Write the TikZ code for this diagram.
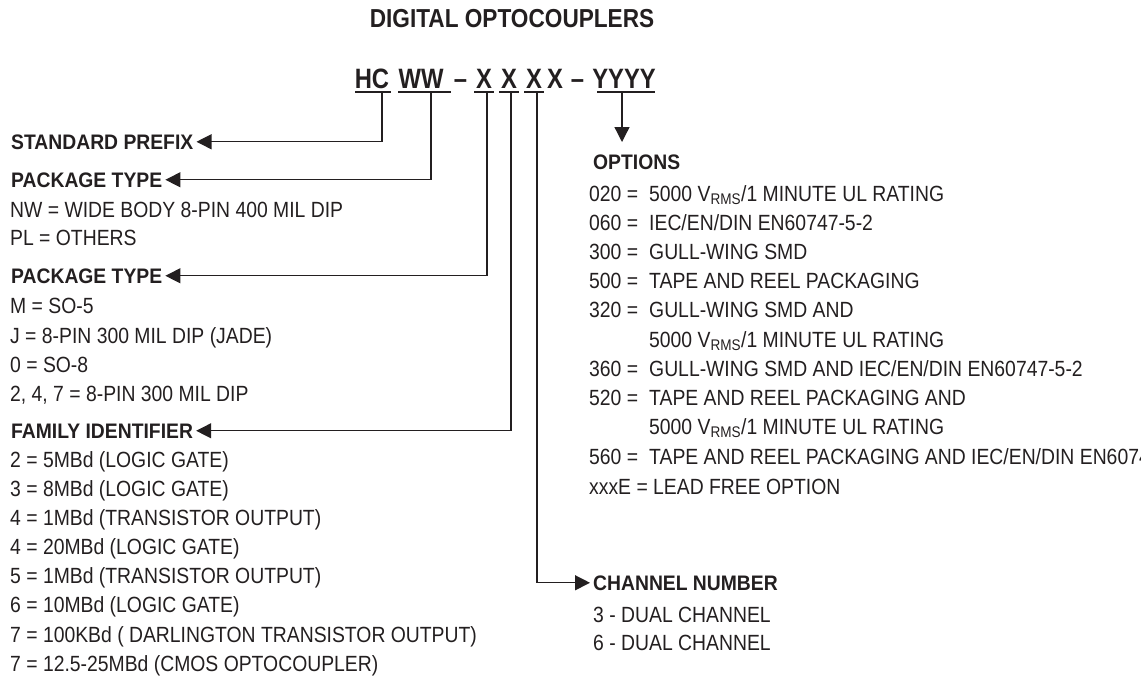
\documentclass[tikz,border=0pt]{standalone}
\usepackage{fontspec}
\setmainfont{Liberation Sans}[FakeStretch=0.88]
\newfontfamily\lblfont{Liberation Sans}[FakeStretch=0.92]
\newfontfamily\titlefont{Liberation Sans}[FakeStretch=0.87]
\newfontfamily\codefont{Liberation Sans}[FakeStretch=0.85]
\usetikzlibrary{arrows.meta}
\definecolor{ink}{HTML}{231F20}
\newcommand{\vrms}{V\textsubscript{RMS}}
\begin{document}
\begin{tikzpicture}[x=1pt,y=-1pt,
  txt/.style={anchor=base west, inner sep=0pt, text=ink, font=\fontsize{22}{26}\selectfont},
  lbl/.style={anchor=base west, inner xsep=3pt, inner ysep=0pt, text=ink, font=\lblfont\bfseries\fontsize{21}{25}\selectfont},
  code/.style={anchor=base, inner xsep=1pt, inner ysep=0pt, text=ink, font=\codefont\bfseries\fontsize{28}{32}\selectfont},
  conn/.style={draw=ink, line width=1.3pt},
  arr/.style={conn, -{Triangle[length=15pt,width=15pt]}},
  uline/.style={draw=ink, line width=1.4pt}
]
\useasboundingbox (0,0) rectangle (1141,678);
\clip (0,0) rectangle (1141,678);

% title
\node[anchor=base, inner sep=0pt, text=ink, font=\titlefont\bfseries\fontsize{26}{30}\selectfont] (title) at (512,27) {DIGITAL OPTOCOUPLERS};

% code line
\node[code] (hc) at (372,88) {HC};
\node[code] (ww) at (421,88) {WW};
\node[code] (d1) at (460.5,88) {–};
\node[code] (x1) at (484,88) {X};
\node[code] (x2) at (509,88) {X};
\node[code] (x3) at (534,88) {X};
\node[code] (x4) at (555,88) {X};
\node[code] (d2) at (577.5,88) {–};
\node[code] (yy) at (624,88) {YYYY};

% underlines
\draw[uline] (355,92) -- (391,92);
\draw[uline] (398,92) -- (451,92);
\draw[uline] (474,92) -- (494,92);
\draw[uline] (499,92) -- (519,92);
\draw[uline] (524,92) -- (544,92);
\draw[uline] (597,92) -- (655,92);

\coordinate (hcU) at (382,92);
\coordinate (wwU) at (431,92);
\coordinate (x1U) at (487,92);
\coordinate (x2U) at (511,92);
\coordinate (x3U) at (537,92);
\coordinate (yyU) at (622,92);
\coordinate (optTip) at (622,142);

% left column
\node[lbl] (sp) at (8,149) {STANDARD PREFIX};
\node[lbl] (pt1) at (8,187) {PACKAGE TYPE};
\node[txt] (pt1a) at (10,217) {NW = WIDE BODY 8-PIN 400 MIL DIP};
\node[txt] (pt1b) at (10,245) {PL = OTHERS};
\node[lbl] (pt2) at (8,283) {PACKAGE TYPE};
\node[txt] (pt2a) at (10,313) {M = SO-5};
\node[txt] (pt2b) at (10,343) {J = 8-PIN 300 MIL DIP (JADE)};
\node[txt] (pt2c) at (10,372) {0 = SO-8};
\node[txt] (pt2d) at (10,401) {2, 4, 7 = 8-PIN 300 MIL DIP};
\node[lbl] (fi) at (8,438) {FAMILY IDENTIFIER};
\node[txt] (fia) at (10,467) {2 = 5MBd (LOGIC GATE)};
\node[txt] (fib) at (10,496) {3 = 8MBd (LOGIC GATE)};
\node[txt] (fic) at (10,525) {4 = 1MBd (TRANSISTOR OUTPUT)};
\node[txt] (fid) at (10,554) {4 = 20MBd (LOGIC GATE)};
\node[txt] (fie) at (10,583) {5 = 1MBd (TRANSISTOR OUTPUT)};
\node[txt] (fif) at (10,612) {6 = 10MBd (LOGIC GATE)};
\node[txt] (fig) at (10,642) {7 = 100KBd ( DARLINGTON TRANSISTOR OUTPUT)};
\node[txt] (fih) at (10,671) {7 = 12.5-25MBd (CMOS OPTOCOUPLER)};

% options
\node[lbl] (opt) at (590,169) {OPTIONS};
\node[txt] (o1k) at (589,201) {020 =};
\node[txt] (o1v) at (649,201) {5000 \vrms/1 MINUTE UL RATING};
\node[txt] (o2k) at (589,230) {060 =};
\node[txt] (o2v) at (649,230) {IEC/EN/DIN EN60747-5-2};
\node[txt] (o3k) at (589,259) {300 =};
\node[txt] (o3v) at (649,259) {GULL-WING SMD};
\node[txt] (o4k) at (589,288) {500 =};
\node[txt] (o4v) at (649,288) {TAPE AND REEL PACKAGING};
\node[txt] (o5k) at (589,317) {320 =};
\node[txt] (o5v) at (649,317) {GULL-WING SMD AND};
\node[txt] (o5w) at (649,347) {5000 \vrms/1 MINUTE UL RATING};
\node[txt] (o6k) at (589,376) {360 =};
\node[txt] (o6v) at (649,376) {GULL-WING SMD AND IEC/EN/DIN EN60747-5-2};
\node[txt] (o7k) at (589,405) {520 =};
\node[txt] (o7v) at (649,405) {TAPE AND REEL PACKAGING AND};
\node[txt] (o7w) at (649,434) {5000 \vrms/1 MINUTE UL RATING};
\node[txt] (o8k) at (589,464) {560 =};
\node[txt] (o8v) at (649,464) {TAPE AND REEL PACKAGING AND IEC/EN/DIN EN60747-5-2};
\node[txt] (o9) at (589,494) {xxxE = LEAD FREE OPTION};

% channel
\node[lbl] (ch) at (590,590) {CHANNEL NUMBER};
\node[txt] (cha) at (593,622) {3 - DUAL CHANNEL};
\node[txt] (chb) at (593,650) {6 - DUAL CHANNEL};

% connectors
\draw[arr] (hcU) |- (sp.east);
\draw[arr] (wwU) |- (pt1.east);
\draw[arr] (x1U) |- (pt2.east);
\draw[arr] (x2U) |- (fi.east);
\draw[arr] (x3U) |- (ch.west);
\draw[arr] (yyU) -- (optTip);
\end{tikzpicture}
\end{document}
